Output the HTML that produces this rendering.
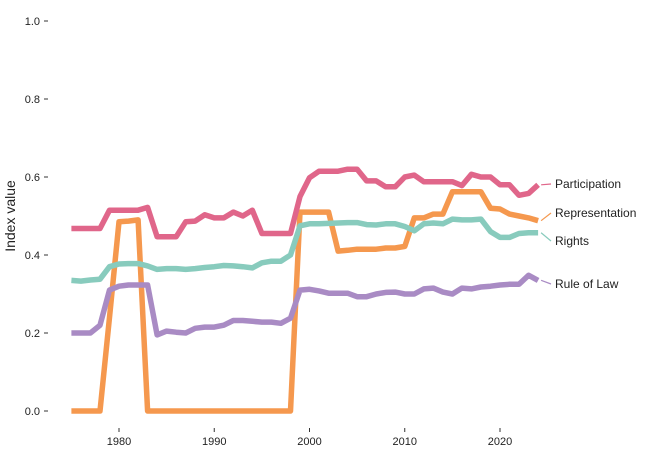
<!DOCTYPE html>
<html><head><meta charset="utf-8"><style>
body{margin:0;background:#fff;}
svg{display:block;font-family:"Liberation Sans",sans-serif;}
</style></head><body>
<svg id="chart" width="668" height="472" viewBox="0 0 668 472">
<g id="axes"></g><g id="lines"></g><g id="labels"></g>
<text transform="translate(15,216) rotate(-90)" text-anchor="middle" font-size="14" fill="#222">Index value</text>
</svg>
<script>
const years = Array.from({length:50},(_,i)=>1975+i);
const participation = [0.468,0.468,0.468,0.468,0.515,0.515,0.515,0.515,0.522,0.447,0.447,0.447,0.485,0.487,0.503,0.495,0.495,0.51,0.5,0.515,0.455,0.455,0.455,0.455,0.55,0.598,0.615,0.615,0.615,0.62,0.62,0.59,0.59,0.575,0.575,0.6,0.605,0.588,0.588,0.588,0.588,0.578,0.607,0.6,0.6,0.58,0.58,0.553,0.558,0.58];
const representation = [0,0,0,0,0.24,0.485,0.487,0.49,0,0,0,0,0,0,0,0,0,0,0,0,0,0,0,0,0.51,0.51,0.51,0.51,0.41,0.412,0.415,0.415,0.415,0.418,0.418,0.422,0.495,0.495,0.505,0.505,0.562,0.562,0.562,0.562,0.52,0.518,0.505,0.5,0.495,0.488];
const rights = [0.335,0.333,0.336,0.338,0.37,0.377,0.378,0.378,0.372,0.363,0.365,0.365,0.363,0.365,0.368,0.37,0.373,0.372,0.37,0.367,0.38,0.384,0.384,0.4,0.475,0.48,0.48,0.481,0.482,0.483,0.483,0.478,0.477,0.48,0.48,0.473,0.462,0.48,0.482,0.48,0.492,0.49,0.49,0.492,0.46,0.445,0.445,0.455,0.457,0.457];
const ruleOfLaw = [0.2,0.2,0.2,0.22,0.31,0.32,0.323,0.323,0.323,0.195,0.205,0.202,0.2,0.212,0.215,0.215,0.22,0.232,0.232,0.23,0.228,0.228,0.225,0.238,0.31,0.312,0.308,0.302,0.302,0.302,0.293,0.293,0.3,0.304,0.305,0.3,0.3,0.313,0.315,0.305,0.3,0.315,0.313,0.318,0.32,0.323,0.325,0.325,0.348,0.335];
const seriesNames = ["Participation","Representation","Rights","Rule of Law"];
const yTicks = [0,0.2,0.4,0.6,0.8,1.0];
const xTicks = [1980,1990,2000,2010,2020];

const NS="http://www.w3.org/2000/svg";
const x = yr => 119 + (yr-1980)*9.525;
const y = v => 411 - v*390;
function mk(tag, attrs, parent){const e=document.createElementNS(NS,tag);for(const k in attrs)e.setAttribute(k,attrs[k]);parent.appendChild(e);return e;}
const axes=document.getElementById('axes'), lines=document.getElementById('lines'), labels=document.getElementById('labels');
yTicks.forEach(t=>{
  const tk=mk('line',{x1:44,x2:48,y1:y(t),y2:y(t),stroke:'#333','stroke-width':1},axes);
  
  
  const tx=mk('text',{x:40,y:y(t)+4,'text-anchor':'end','font-size':11,fill:'#222'},axes);
  
  
  tx.textContent=t.toFixed(1);
});
xTicks.forEach(t=>{
  const tk=mk('line',{x1:x(t),x2:x(t),y1:428,y2:432,stroke:'#333','stroke-width':1},axes);
  
  
  const tx=mk('text',{x:x(t),y:445,'text-anchor':'middle','font-size':11,fill:'#222'},axes);
  
  
  tx.textContent=t;
});
const allSeries=[participation,representation,rights,ruleOfLaw];
const colors=['#e0668a','#f5984e','#88cbbd','#a98bc4'];
const labelY=[184,213,241,284];
const drawOrder=[1,3,2,0];
drawOrder.forEach(i=>{
  const s=allSeries[i];
  const d=s.map((v,j)=>(j?'L':'M')+x(years[j]).toFixed(1)+','+y(v).toFixed(1)).join('');
  const p=mk('path',{d:d,fill:'none',stroke:colors[i],'stroke-width':5.5,'stroke-linejoin':'round'},lines);
  
  
});
allSeries.forEach((s,i)=>{
  const lx=x(years[years.length-1]), ly=y(s[s.length-1]);
  const l=mk('line',{x1:lx+3,y1:ly,x2:551,y2:labelY[i],stroke:colors[i],'stroke-width':1.2},labels);
  
  
  const t=mk('text',{x:555,y:labelY[i]+4,'font-size':12,fill:'#222'},labels);
  
  
  t.textContent=seriesNames[i];
});
</script>
</body></html>
